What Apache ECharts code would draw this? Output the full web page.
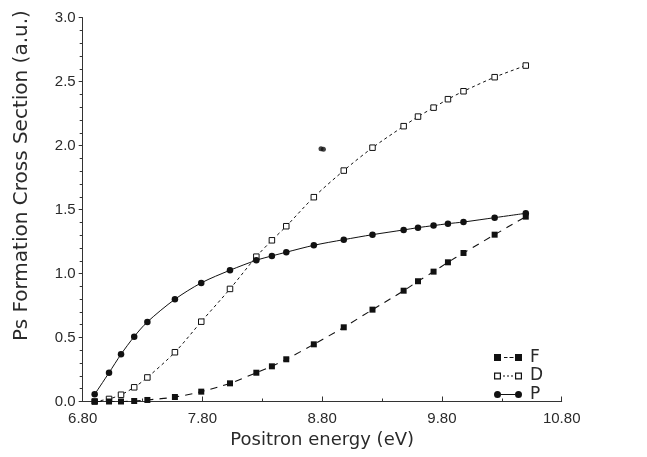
<!DOCTYPE html>
<html>
<head>
<meta charset="utf-8">
<script src="https://cdn.jsdelivr.net/npm/echarts@6/dist/echarts.min.js"></script>
<style>
  html, body { margin: 0; padding: 0; background: #fff; }
  #chart { width: 647px; height: 457px; }
</style>
</head>
<body>
<div id="chart"></div>
<script>
// Positron energies (eV) at which the cross sections were computed
const energy = [6.90, 7.02, 7.12, 7.23, 7.34, 7.57, 7.79, 8.03, 8.25, 8.38, 8.50,
                8.73, 8.98, 9.22, 9.48, 9.60, 9.73, 9.85, 9.98, 10.24, 10.50];

// Ps formation cross sections (a.u.) per final state
const fValues = [0.000, 0.000, 0.000, 0.004, 0.012, 0.035, 0.077, 0.142, 0.225, 0.275, 0.330,
                 0.447, 0.580, 0.718, 0.866, 0.940, 1.015, 1.088, 1.161, 1.304, 1.445];
const dValues = [0.000, 0.020, 0.053, 0.111, 0.188, 0.385, 0.624, 0.880, 1.132, 1.260, 1.370,
                 1.597, 1.805, 1.984, 2.152, 2.227, 2.297, 2.363, 2.425, 2.535, 2.626];
const pValues = [0.056, 0.225, 0.369, 0.507, 0.622, 0.799, 0.927, 1.026, 1.104, 1.138, 1.167,
                 1.221, 1.265, 1.304, 1.341, 1.359, 1.375, 1.390, 1.403, 1.437, 1.471];

// Isolated stray marks near (8.80, 1.97)
const strayX = [8.79, 8.81];
const strayY = [1.975, 1.972];

// Axis ticks
const xTicks = [6.80, 7.80, 8.80, 9.80, 10.80];
const xTickLabels = ['6.80', '7.80', '8.80', '9.80', '10.80'];
const yTicks = [0, 0.5, 1.0, 1.5, 2.0, 2.5, 3.0];
const yTickLabels = ['0.0', '0.5', '1.0', '1.5', '2.0', '2.5', '3.0'];

const seriesNames = ['F', 'D', 'P'];

const pair = (xs, ys) => xs.map((x, i) => [x, ys[i]]);

function labelFor(ticks, labels) {
  return function (v) {
    for (let i = 0; i < ticks.length; i++) {
      if (Math.abs(ticks[i] - v) < 1e-6) return labels[i];
    }
    return '';
  };
}

const ink = '#111';
const textColor = '#2a2a2a';

// Legend glyphs: two markers joined by the series' line style
const iconF = 'path://M0 0H7V7H0Z M21 0H28V7H21Z M10 3H13.5V4H10Z M15.5 3H19.5V4H15.5Z';
const iconD = 'path://M0 0H7V7H0Z M1.2 1.2V5.8H5.8V1.2Z M21 0H28V7H21Z M22.2 1.2V5.8H26.8V1.2Z ' +
              'M9 3H11V4H9Z M13 3H15V4H13Z M17 3H19V4H17Z';
const iconP = 'path://M0 3.5A3.5 3.5 0 1 1 7 3.5A3.5 3.5 0 1 1 0 3.5Z ' +
              'M21 3.5A3.5 3.5 0 1 1 28 3.5A3.5 3.5 0 1 1 21 3.5Z M7 3H21V4H7Z';

const chart = echarts.init(document.getElementById('chart'), null, { renderer: 'canvas' });

chart.setOption({
  animation: false,
  backgroundColor: '#fff',
  grid: { left: 82.7, right: 85.3, top: 17.7, bottom: 55.5, containLabel: false },
  legend: {
    orient: 'vertical',
    left: 489,
    top: 344,
    itemWidth: 28,
    itemHeight: 7,
    itemGap: 1.5,
    icon: 'rect',
    itemStyle: { color: ink, borderWidth: 0 },
    textStyle: { fontFamily: 'DejaVu Sans', fontSize: 17, color: textColor, padding: [0, 0, 0, 3], lineHeight: 17 },
    data: [
      { name: seriesNames[0], icon: iconF },
      { name: seriesNames[1], icon: iconD },
      { name: seriesNames[2], icon: iconP }
    ]
  },
  xAxis: {
    type: 'value',
    min: 6.8,
    max: 10.8,
    interval: 1,
    name: 'Positron energy (eV)',
    nameLocation: 'middle',
    nameGap: 29,
    nameTextStyle: { fontFamily: 'DejaVu Sans', fontSize: 18, color: textColor },
    axisLine: { show: true, lineStyle: { color: '#333', width: 1 } },
    axisTick: { show: true, inside: true, length: 5, lineStyle: { color: '#333' } },
    minorTick: { show: true, splitNumber: 2, length: 3, lineStyle: { color: '#333' } },
    axisLabel: {
      formatter: labelFor(xTicks, xTickLabels),
      fontFamily: 'Liberation Sans', fontSize: 15, color: textColor, margin: 10
    },
    splitLine: { show: false }
  },
  yAxis: {
    type: 'value',
    min: 0,
    max: 3,
    interval: 0.5,
    name: 'Ps Formation Cross Section (a.u.)',
    nameLocation: 'middle',
    nameRotate: 90,
    nameGap: 51,
    nameTextStyle: { fontFamily: 'DejaVu Sans', fontSize: 20, color: textColor, padding: [0, 0, 0, 68] },
    axisLine: { show: true, lineStyle: { color: '#333', width: 1 } },
    axisTick: { show: true, inside: false, length: 4, lineStyle: { color: '#333' } },
    minorTick: { show: true, splitNumber: 5, length: 3, lineStyle: { color: '#333' } },
    axisLabel: {
      formatter: labelFor(yTicks, yTickLabels),
      fontFamily: 'Liberation Sans', fontSize: 15, color: textColor, margin: 7
    },
    splitLine: { show: false }
  },
  series: [
    {
      name: seriesNames[0],
      type: 'line',
      data: pair(energy, fValues),
      smooth: 0.3,
      symbol: 'rect',
      symbolSize: 6,
      itemStyle: { color: ink },
      lineStyle: { color: ink, width: 1.1, type: [7, 6] },
      z: 3
    },
    {
      name: seriesNames[1],
      type: 'line',
      data: pair(energy, dValues),
      smooth: 0.3,
      symbol: 'rect',
      symbolSize: 5.5,
      itemStyle: { color: '#fff', borderColor: ink, borderWidth: 1 },
      lineStyle: { color: ink, width: 1, type: [3, 3] },
      z: 2
    },
    {
      name: seriesNames[2],
      type: 'line',
      data: pair(energy, pValues),
      smooth: 0.3,
      symbol: 'circle',
      symbolSize: 6.5,
      itemStyle: { color: ink },
      lineStyle: { color: ink, width: 1 },
      z: 4
    },
    {
      name: 'stray',
      type: 'scatter',
      data: pair(strayX, strayY),
      symbol: 'circle',
      symbolSize: 5,
      itemStyle: { color: ink },
      silent: true
    }
  ]
});
</script>
</body>
</html>
